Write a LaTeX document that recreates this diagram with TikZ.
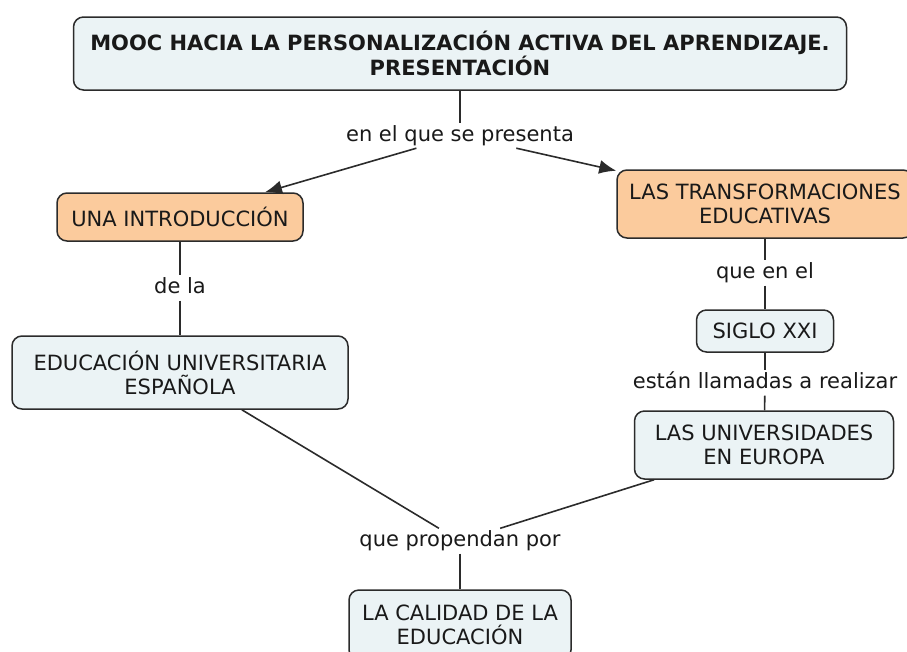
\documentclass[tikz,border=0pt]{standalone}
\usepackage{fontspec}
\setmainfont{DejaVu Sans}
\usetikzlibrary{arrows.meta}
\definecolor{conceptfill}{HTML}{EBF3F5}
\definecolor{introfill}{HTML}{FBCB9D}
\definecolor{edgegray}{HTML}{2B2B2B}
\tikzset{
  concept/.style={draw=edgegray, line width=1.5pt, rounded corners=10pt,
    fill=conceptfill, align=center, inner xsep=10pt, text=black!90,
    font=\fontsize{21}{24}\selectfont},
  introconcept/.style={concept, fill=introfill},
  linking/.style={inner sep=2.5pt, text height=15.5pt, text depth=4.5pt,
    text=black!90, font=\fontsize{21}{24}\selectfont},
  link/.style={draw=edgegray, line width=1.6pt},
  linkarrow/.style={link, -{Latex[length=17pt,width=14pt]}}
}
\begin{document}
\begin{tikzpicture}[x=1pt, y=-1pt]
  \useasboundingbox (0,0) rectangle (907,651);
  % concepts
  \node[concept, minimum width=773pt, minimum height=73pt, font=\fontsize{21}{25}\selectfont\bfseries]
    (title) at (460,53.5) {MOOC HACIA LA PERSONALIZACIÓN ACTIVA DEL APRENDIZAJE.\\PRESENTACIÓN};
  \node[introconcept, minimum width=246pt, minimum height=48pt] (intro) at (180,217) {UNA INTRODUCCIÓN};
  \node[concept, minimum width=336pt, minimum height=73pt] (educ) at (180,372.5) {EDUCACIÓN UNIVERSITARIA\\ESPAÑOLA};
  \node[introconcept, minimum width=296pt, minimum height=68pt] (transf) at (765,204) {LAS TRANSFORMACIONES\\EDUCATIVAS};
  \node[concept, minimum width=137pt, minimum height=42pt] (siglo) at (765,331) {SIGLO XXI};
  \node[concept, minimum width=259pt, minimum height=68pt] (univ) at (764,445) {LAS UNIVERSIDADES\\EN EUROPA};
  \node[concept, minimum width=222pt, minimum height=70pt] (calidad) at (460,625) {LA CALIDAD DE LA\\EDUCACIÓN};
  % linking phrases
  \node[linking] (presenta) at (460,135.5) {en el que se presenta};
  \node[linking] (dela) at (180,288) {de la};
  \node[linking] (queenel) at (765,273) {que en el};
  \node[linking] (llamadas) at (765,383) {están llamadas a realizar};
  \node[linking] (propendan) at (460,541) {que propendan por};
  % connectors
  \draw[link] (title) -- (presenta);
  \draw[linkarrow] (presenta) -- (intro);
  \draw[linkarrow] (presenta) -- (transf);
  \draw[link] (intro) -- (dela);
  \draw[link] (dela) -- (educ);
  \draw[link] (transf) -- (queenel);
  \draw[link] (queenel) -- (siglo);
  \draw[link] (siglo) -- (llamadas);
  \draw[link] (llamadas) -- (univ);
  \draw[link] (educ) -- (propendan);
  \draw[link] (univ) -- (propendan);
  \draw[link] (propendan) -- (calidad);
\end{tikzpicture}
\end{document}
